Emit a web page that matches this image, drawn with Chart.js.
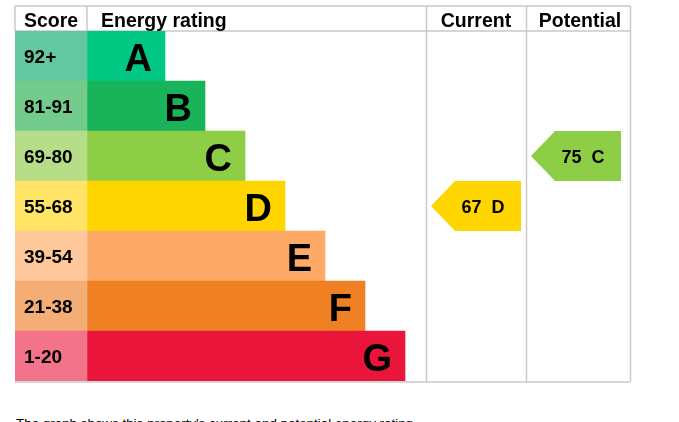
<!DOCTYPE html>
<html lang="en">
<head>
    <meta charset="UTF-8">
    <title>Energy rating</title>
    <script src="https://cdn.jsdelivr.net/npm/chart.js"></script>
    <style>
        body { margin: 0; background: #fff; font-family: "Liberation Sans", Arial, sans-serif; }
        #wrap { position: relative; width: 679px; height: 400px; }
        .note { position: absolute; left: 16px; top: 416px; margin: 0; font-size: 13.4px; line-height: 16px; color: #000; white-space: nowrap; }
    </style>
</head>
<body>
    <div id="wrap"><canvas id="epcChart"></canvas></div>
    <p class="note">The graph shows this property's current and potential energy rating.</p>

<script>
    // Bandas EPC
    const bands = ["A", "B", "C", "D", "E", "F", "G"];
    const scoreRanges = ["92+", "81-91", "69-80", "55-68", "39-54", "21-38", "1-20"];
    const scoreMin = [92, 81, 69, 55, 39, 21, 1];
    const bandSteps = [1, 2, 3, 4, 5, 6, 7];
    const bandColours = ["#00c781", "#19b459", "#8dce46", "#ffd500", "#fcaa65", "#ef8023", "#e9153b"];
    const scoreColours = ["#63c7a1", "#73cc8b", "#b6de88", "#ffe466", "#fec89b", "#f5ad76", "#f2738a"];
    const headers = ["Score", "Energy rating", "Current", "Potential"];
    const currentScore = 67;
    const potentialScore = 75;

    // layout on the x scale (1 unit = one band step)
    const X_SCORE = 1.8, X_BAR_A = 3.75, X_CUR = 10.275, X_POT = 12.775, X_MAX = 15.375;
    const GRID = "#c9c9c9";

    function bandOf(v) {
        for (let i = 0; i < scoreMin.length; i++) if (v >= scoreMin[i]) return i;
        return scoreMin.length - 1;
    }

    const tablePlugin = {
        id: "epcTable",
        beforeDatasetsDraw(chart) {
            const { ctx, chartArea: a, scales: { x } } = chart;
            const top = 6;
            ctx.save();
            ctx.strokeStyle = GRID;
            ctx.lineWidth = 1.5;
            ctx.beginPath();
            ctx.moveTo(a.left, top); ctx.lineTo(a.right, top);
            ctx.moveTo(a.left, a.top); ctx.lineTo(a.right, a.top);
            ctx.moveTo(a.left, a.bottom + 1); ctx.lineTo(a.right, a.bottom + 1);
            ctx.moveTo(a.left, top); ctx.lineTo(a.left, a.top);
            ctx.moveTo(x.getPixelForValue(X_SCORE), top); ctx.lineTo(x.getPixelForValue(X_SCORE), a.top);
            [X_CUR, X_POT, X_MAX].forEach(v => {
                const px = Math.round(x.getPixelForValue(v)) + 0.5;
                ctx.moveTo(px, top); ctx.lineTo(px, a.bottom + 1);
            });
            ctx.stroke();

            ctx.fillStyle = "#000";
            ctx.font = "bold 19.5px 'Liberation Sans', Arial, sans-serif";
            ctx.textBaseline = "alphabetic";
            ctx.textAlign = "left";
            ctx.fillText(headers[0], a.left + 9, 27);
            ctx.fillText(headers[1], x.getPixelForValue(X_SCORE) + 14, 27);
            ctx.textAlign = "center";
            ctx.fillText(headers[2], (x.getPixelForValue(X_CUR) + x.getPixelForValue(X_POT)) / 2, 27);
            ctx.fillText(headers[3], (x.getPixelForValue(X_POT) + x.getPixelForValue(X_MAX)) / 2 + 2, 27);
            ctx.restore();
        },
        afterDatasetsDraw(chart) {
            const { ctx, chartArea: a, scales: { x, y } } = chart;
            const half = y.height / bands.length / 2;
            ctx.save();
            ctx.fillStyle = "#000";
            // score ranges and letters
            bands.forEach((b, i) => {
                const cy = y.getPixelForValue(i);
                ctx.textBaseline = "alphabetic";
                ctx.textAlign = "left";
                ctx.font = "bold 19px 'Liberation Sans', Arial, sans-serif";
                ctx.fillText(scoreRanges[i], a.left + 9, cy + 7);
                ctx.textAlign = "right";
                ctx.font = "bold 38px 'Liberation Sans', Arial, sans-serif";
                const end = x.getPixelForValue(X_BAR_A + bandSteps[i] - 1);
                ctx.fillText(b, end - 13, cy + 14.5);
            });
            // current / potential arrows
            [[currentScore, X_CUR], [potentialScore, X_POT]].forEach(([v, col]) => {
                const i = bandOf(v);
                const cy = y.getPixelForValue(i);
                const left = x.getPixelForValue(col) + 5;
                const right = left + 90;
                ctx.fillStyle = bandColours[i];
                ctx.beginPath();
                ctx.moveTo(left, cy);
                ctx.lineTo(left + 24, cy - half);
                ctx.lineTo(right, cy - half);
                ctx.lineTo(right, cy + half);
                ctx.lineTo(left + 24, cy + half);
                ctx.closePath();
                ctx.fill();
                ctx.fillStyle = "#000";
                ctx.font = "bold 18px 'Liberation Sans', Arial, sans-serif";
                ctx.textAlign = "center";
                ctx.textBaseline = "alphabetic";
                ctx.fillText(v + "  " + bands[i], (left + right) / 2 + 7, cy + 7);
            });
            ctx.restore();
        }
    };

    new Chart(document.getElementById("epcChart"), {
        type: "bar",
        data: {
            labels: bands,
            datasets: [
                {
                    label: "Score",
                    data: bands.map(() => [0, X_SCORE]),
                    backgroundColor: scoreColours,
                    grouped: false
                },
                {
                    label: "Energy rating",
                    data: bandSteps.map(s => [X_SCORE, X_BAR_A + s - 1]),
                    backgroundColor: bandColours,
                    grouped: false
                }
            ]
        },
        options: {
            indexAxis: "y",
            responsive: true,
            maintainAspectRatio: false,
            animation: false,
            barPercentage: 1,
            categoryPercentage: 1,
            layout: { padding: { left: 15, right: 49, top: 31, bottom: 19 } },
            plugins: { legend: { display: false }, tooltip: { enabled: false } },
            scales: {
                x: { display: false, min: 0, max: X_MAX },
                y: { display: false }
            }
        },
        plugins: [tablePlugin]
    });
</script>
</body>
</html>
